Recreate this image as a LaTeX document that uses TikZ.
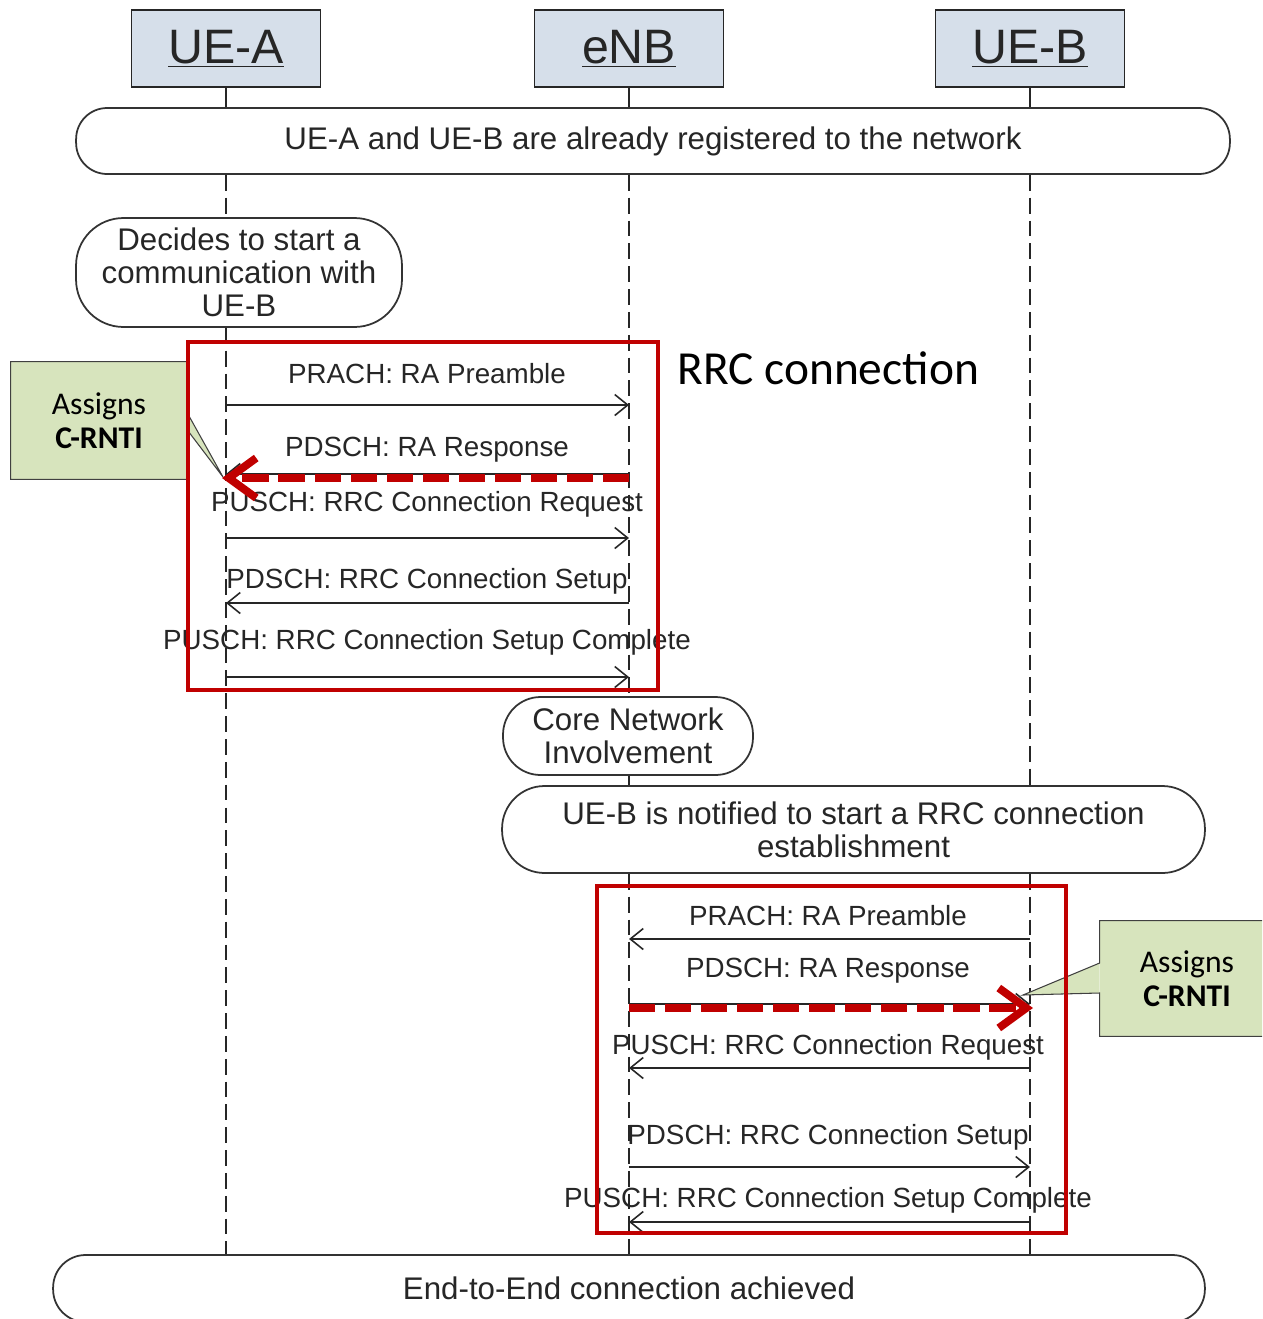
\documentclass[tikz,border=0pt]{standalone}
\usepackage{fontspec}
\setmainfont{Liberation Sans}
\newfontfamily\calib{Carlito}
\usetikzlibrary{arrows.meta}
\definecolor{hdrfill}{HTML}{D6DFEA}
\definecolor{notegreen}{HTML}{D7E4BD}
\definecolor{rrcred}{HTML}{C00000}
\definecolor{ink}{HTML}{262626}

\begin{document}
\begin{tikzpicture}[x=0.02cm,y=-0.02cm,
  hdr/.style={draw=black!85,line width=1.1pt,fill=hdrfill,minimum width=3.78cm,minimum height=1.54cm,
    inner sep=0pt,font=\fontsize{27.5}{30}\selectfont,text=ink},
  note/.style={draw=black!80,line width=1pt,fill=white,inner sep=0pt,align=center,
    font=\fontsize{17.8}{18.7}\selectfont,text=ink},
  life/.style={draw=black!85,line width=1pt},
  lifedash/.style={life,dash pattern=on 9pt off 4pt},
  msg/.style={draw=black!85,line width=0.9pt,-{Straight Barb[length=0.26cm,width=0.42cm]}},
  lbl/.style={font=\fontsize{15.8}{18.6}\selectfont,text=ink,inner sep=0pt},
  redbox/.style={draw=rrcred,line width=2.3pt,inner sep=0pt},
  redarrow/.style={draw=rrcred,line width=4.5pt,dash pattern=on 15pt off 5.5pt,
    -{Straight Barb[length=0.55cm,width=0.8cm]}},
  callout/.style={fill=notegreen,inner sep=0pt,align=center,font=\calib\fontsize{18}{19.3}\selectfont,text=black},
  outline/.style={draw=black!75,line width=0.6pt},
]
\useasboundingbox (0,0) rectangle (1262,1319);
\clip (0,0) rectangle (1262,1319);

% participants
\node[hdr] (hA) at (226,48.5) {\underline{UE-A}};
\node[hdr] (hE) at (629,48.5) {\underline{eNB}};
\node[hdr] (hB) at (1030,48.5) {\underline{UE-B}};

% state boxes
\node[note,minimum width=23.08cm,minimum height=1.32cm,rounded corners=0.62cm] (reg) at (653,141)
  {UE-A and UE-B are already registered to the network};
\node[note,minimum width=6.52cm,minimum height=2.18cm,rounded corners=0.95cm] (dec) at (239,272.5)
  {Decides to start a\\communication with\\UE-B};
\node[note,minimum width=5cm,minimum height=1.56cm,rounded corners=0.75cm] (core) at (628,736)
  {Core Network\\Involvement};
\node[note,minimum width=14.06cm,minimum height=1.74cm,rounded corners=0.85cm] (notif) at (853.5,829.5)
  {UE-B is notified to start a RRC connection\\establishment};
\node[note,minimum width=23.04cm,minimum height=1.34cm,rounded corners=0.65cm] (e2e) at (629,1288.5)
  {End-to-End connection achieved};

% lifelines
\foreach \h in {hA,hE,hB} {\draw[life] (\h.south) -- (\h.south |- reg.north);}
\draw[lifedash] (hA.south |- reg.south) -- (hA.south |- dec.north);
\draw[lifedash] (hA.south |- dec.south) -- (hA.south |- e2e.north);
\draw[lifedash] (hE.south |- reg.south) -- (hE.south |- core.north);
\draw[life] (hE.south |- core.south) -- (hE.south |- notif.north);
\draw[lifedash] (hE.south |- notif.south) -- (hE.south |- e2e.north);
\draw[lifedash] (hB.south |- reg.south) -- (hB.south |- notif.north);
\draw[lifedash] (hB.south |- notif.south) -- (hB.south |- e2e.north);

% message end points on the lifelines
\foreach \i/\y in {1/405,2/474,3/538,4/603,5/677} {
  \coordinate (A\i) at (hA.south |- 0,\y);
  \coordinate (E\i) at (hE.south |- 0,\y);
}
\foreach \i/\y in {1/939,2/1004,3/1068,4/1167,5/1222} {
  \coordinate (F\i) at (hE.south |- 0,\y);
  \coordinate (B\i) at (hB.south |- 0,\y);
}

% UE-A <-> eNB
\draw[msg] (A1) -- (E1);
\draw[msg] (E2) -- (A2);
\draw[msg] (A3) -- (E3);
\draw[msg] (E4) -- (A4);
\draw[msg] (A5) -- (E5);
\node[lbl] (la1) at (427,374) {PRACH: RA Preamble};
\node[lbl] (la2) at (427,450) {PDSCH: RA Response};
\node[lbl] (la3) at (427,504) {PUSCH: RRC Connection Request};
\node[lbl] (la4) at (427,581) {PDSCH: RRC Connection Setup};
\node[lbl] (la5) at (427,642) {PUSCH: RRC Connection Setup Complete};

% eNB <-> UE-B
\draw[msg] (B1) -- (F1);
\draw[msg] (F2) -- (B2);
\draw[msg] (B3) -- (F3);
\draw[msg] (F4) -- (B4);
\draw[msg] (B5) -- (F5);
\node[lbl] (lb1) at (828,916) {PRACH: RA Preamble};
\node[lbl] (lb2) at (828,971) {PDSCH: RA Response};
\node[lbl] (lb3) at (828,1047) {PUSCH: RRC Connection Request};
\node[lbl] (lb4) at (828,1137) {PDSCH: RRC Connection Setup};
\node[lbl] (lb5) at (828,1200) {PUSCH: RRC Connection Setup Complete};

% callouts
\node[callout,minimum width=3.52cm,minimum height=2.34cm] (c1) at (99,420.5) {Assigns\\\textbf{C-RNTI}};
\coordinate (t1) at (223,477);
\fill[notegreen] ([yshift=0.15cm]c1.east) -- (t1) -- ([yshift=-0.19cm]c1.east) -- cycle;
\draw[outline] ([yshift=0.15cm]c1.east) -- (t1) -- ([yshift=-0.19cm]c1.east) -- (c1.south east)
  -- (c1.south west) -- (c1.north west) -- (c1.north east) -- cycle;

\node[callout,minimum width=3.48cm,minimum height=2.3cm] (c2) at (1187,978.5) {Assigns\\\textbf{C-RNTI}};
\coordinate (t2) at (1023,995);
\fill[notegreen] ([yshift=0.31cm]c2.west) -- (t2) -- ([yshift=-0.29cm]c2.west) -- cycle;
\draw[outline] ([yshift=0.31cm]c2.west) -- (t2) -- ([yshift=-0.29cm]c2.west) -- (c2.south west)
  -- (c2.south east) -- (c2.north east) -- (c2.north west) -- cycle;

% RRC connection frames
\node[redbox,minimum width=9.4cm,minimum height=6.96cm] (rrc1) at (423,516) {};
\node[redbox,minimum width=9.38cm,minimum height=6.94cm] (rrc2) at (831.5,1059.5) {};
\node[anchor=west,inner sep=0pt,font=\calib\fontsize{27}{30}\selectfont] (rrclbl) at (677,368) {RRC connection};

% highlighted RA responses
\coordinate (rE1) at (hE.south |- 0,478);
\coordinate (rA1) at (222,478);
\draw[redarrow] (rE1) -- (rA1);
\coordinate (rE2) at (hE.south |- 0,1008);
\coordinate (rB2) at (1033,1008);
\draw[redarrow] (rE2) -- (rB2);
\end{tikzpicture}
\end{document}
